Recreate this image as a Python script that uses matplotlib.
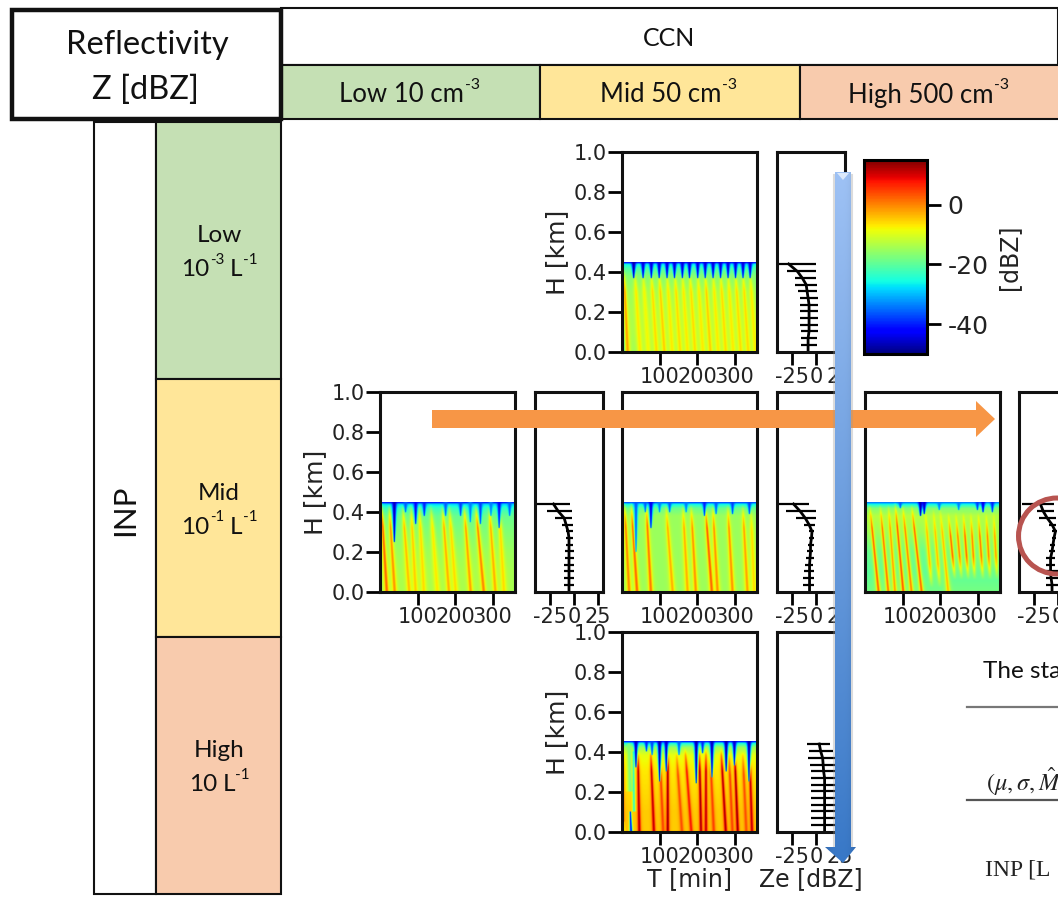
import numpy as np
import matplotlib
matplotlib.use('Agg')
import matplotlib.pyplot as plt
from matplotlib.cm import ScalarMappable
from matplotlib.colors import Normalize
from matplotlib.patches import Rectangle, Ellipse, Polygon

W, H = 1058, 898
plt.rcParams['axes.unicode_minus'] = False

# table text
CCN_LABELS = ['Low 10 cm', 'Mid 50 cm', 'High 500 cm']
INP_LABELS = [('Low', '10', '-3', 'L', '-1'), ('Mid', '10', '-1', 'L', '-1'), ('High', '10', '', 'L', '-1')]
CLASS_COLORS = ['#C5E0B4', '#FFE699', '#F8CBAD']

# height of the bars in the Ze profiles [km]
PROF_H = [0.44, 0.403, 0.37, 0.337, 0.303, 0.27, 0.237, 0.203, 0.17, 0.137, 0.103, 0.07, 0.037]

TOP_ZE = [-28, -19, -14, -10, -9, -8, -7, -7, -7, -7, -7, -8, -8]
TOP_LO = [-38, -30, -21, -21, -18, -16, -16, -16, -16, -16, -15, -15, -15]
TOP_HI = [0, 0, 0, 1, 1, 2, 2, 2, 2, 2, 2, 1, 1]

LEFT_ZE = [-21, -16, -10, -8, -6, -5, -5, -5, -5, -5, -5, -5, -5]
LEFT_LO = [-39, -28, -19, -12, -8, -8, -8, -9, -9, -10, -10, -10, -10]
LEFT_HI = [-4, -2, -2, -1, -1, -1, -1, 0, 0, 0, 0, 0, 0]

MID_ZE = [-23, -16, -11, -7, -4, -4.5, -5.5, -5.5, -6, -6.5, -6.5, -6.5, -6.5]
MID_LO = [-38.5, -31, -20, -12.5, -7, -7, -8, -9, -10, -11, -12.5, -13, -13]
MID_HI = [-7, 0, 0, -1, -1.5, -1.5, -2, -3, -2, -3, -1.5, -1.5, -1.5]

RIGHT_ZE = [-18, -15, -11, -6, -2.5, -4, -5, -6, -7.5, -7.5, -7.5, -7, -6]
RIGHT_LO = [-37, -21, -19, -9, -6, -6, -8, -9, -12, -12, -12, -12, -12]
RIGHT_HI = [-4, -4, -2, -2, -1, -2, -2.5, -3, -3, -3, 0, 0, 0]

BOTTOM_ZE = [3.5, 5, 7, 7.5, 8, 9, 9, 9, 9, 9, 9, 9, 9]
BOTTOM_LO = [-9, -7, -8, -6, -5, -5, -5, -5, -5, -5, -5, -5, -5]
BOTTOM_HI = [15, 18, 22, 25, 26, 26, 26, 26, 26, 26, 26, 26, 26]

# background reflectivity against height, read from the gaps between the streaks
BASE_H = [0.0, 0.1, 0.2, 0.3, 0.38, 0.42, 0.44, 0.45]
TOP_BASE = [-15, -14, -14, -15, -17, -21, -26, -43]
LEFT_BASE = [-14, -14, -15, -17, -19, -23, -28, -42]
MID_BASE = [-15, -15, -15, -15, -15, -19, -26, -38]
RIGHT_BASE = [-18, -20, -19, -15, -13, -17, -26, -35]
BOTTOM_BASE = [-5, -5, -6, -7, -9, -15, -25, -42]

# streaks: time at top [min], time at bottom [min], height of start, height of end, dBZ
TOP_STREAKS = [
    (0, 1, 0.45, 0.0, -46), (4, 15, 0.42, 0.0, -2), (33, 48, 0.42, 0.0, -7), (55, 70, 0.42, 0.0, -8),
    (77, 92, 0.42, 0.0, -6), (98, 113, 0.42, 0.0, -5), (119, 134, 0.42, 0.0, -7), (140, 155, 0.42, 0.0, -6),
    (160, 175, 0.42, 0.0, -7), (180, 195, 0.42, 0.0, -6), (201, 216, 0.42, 0.0, -7), (221, 236, 0.42, 0.0, -5),
    (242, 257, 0.42, 0.0, -7), (262, 277, 0.42, 0.0, -6), (282, 297, 0.42, 0.0, -7), (302, 317, 0.42, 0.0, -6),
    (322, 337, 0.42, 0.0, -6), (341, 356, 0.42, 0.0, -7),
]
TOP_CUSPS = [
    (31, 0.37, -48), (56, 0.37, -45), (78, 0.37, -45), (99, 0.37, -45), (120, 0.37, -45), (140, 0.37, -45),
    (161, 0.37, -45), (180, 0.37, -45), (202, 0.37, -45), (222, 0.37, -45), (243, 0.37, -45), (263, 0.37, -45),
    (283, 0.37, -45), (303, 0.37, -45), (323, 0.37, -45), (342, 0.37, -45),
]

LEFT_STREAKS = [
    (3, 18, 0.45, 0.0, 2), (24, 39, 0.44, 0.0, -1), (60, 78, 0.44, 0.0, -4), (82, 95, 0.44, 0.0, -5),
    (104, 117, 0.44, 0.0, -6), (135, 153, 0.44, 0.0, -7), (166, 184, 0.44, 0.0, -3), (184, 202, 0.44, 0.0, -6),
    (224, 242, 0.44, 0.0, -2), (255, 277, 0.44, 0.0, 0), (291, 308, 0.44, 0.0, -3), (317, 331, 0.44, 0.0, -6),
]
LEFT_CUSPS = [
    (38, 0.25, -47), (68, 0.40, -36), (95, 0.34, -42), (118, 0.38, -40), (175, 0.38, -36), (215, 0.38, -38),
    (241, 0.35, -34), (268, 0.34, -38), (296, 0.38, -34), (318, 0.32, -42), (346, 0.38, -36),
]

MID_STREAKS = [
    (6, 19, 0.45, 0.0, 0), (24, 40, 0.45, 0.0, 2), (64, 77, 0.45, 0.0, 1), (117, 135, 0.44, 0.0, -3),
    (162, 175, 0.44, 0.0, -3), (184, 197, 0.44, 0.0, -1), (222, 240, 0.44, 0.0, 3), (242, 255, 0.44, 0.0, -1),
    (282, 295, 0.44, 0.0, -1), (322, 335, 0.44, 0.0, -2), (344, 353, 0.42, 0.0, -6),
]
MID_CUSPS = [
    (37, 0.20, -36), (62, 0.40, -36), (77, 0.32, -44), (100, 0.40, -34), (127, 0.40, -36), (171, 0.40, -34),
    (220, 0.38, -40), (251, 0.39, -36), (295, 0.39, -38), (340, 0.39, -38),
]

RIGHT_STREAKS = [
    (12, 36, 0.44, 0.0, 2), (40, 62, 0.44, 0.0, 1), (62, 80, 0.44, 0.0, -2), (80, 102, 0.45, 0.0, 3),
    (100, 124, 0.44, 0.0, 0), (124, 151, 0.44, 0.0, 2), (160, 178, 0.42, 0.02, -4), (182, 200, 0.42, 0.02, -4),
    (200, 222, 0.42, 0.0, -4), (222, 240, 0.40, 0.06, 2), (242, 258, 0.40, 0.06, 0), (262, 276, 0.40, 0.06, 2),
    (282, 293, 0.40, 0.06, 0), (302, 315, 0.40, 0.06, 1), (323, 334, 0.40, 0.06, 0), (343, 353, 0.40, 0.06, -2),
]
RIGHT_CUSPS = [
    (94, 0.42, -36), (148, 0.38, -48), (158, 0.39, -46), (198, 0.41, -34), (250, 0.41, -34),
    (300, 0.41, -38), (315, 0.40, -44), (340, 0.40, -40),
]

BOTTOM_STREAKS = [
    (100, 110, 0.40, 0.0, 5), (145, 160, 0.40, 0.0, 4), (235, 245, 0.40, 0.0, 5), (285, 295, 0.40, 0.0, 5),
    (322, 332, 0.40, 0.0, 4), (18, 22, 0.44, 0.20, -17), (30, 32, 0.40, 0.10, -24), (22, 24, 0.10, 0.0, -44),
    (4, 4, 0.05, 0.0, -30), (0, 1, 0.45, 0.0, 12), (42, 46, 0.42, 0.0, 13), (76, 85, 0.42, 0.0, 12),
    (122, 122, 0.44, 0.0, 14), (168, 185, 0.42, 0.0, 8), (206, 211, 0.42, 0.0, 14), (224, 224, 0.42, 0.0, 12),
    (264, 277, 0.42, 0.0, 13), (300, 309, 0.42, 0.0, 14), (340, 347, 0.42, 0.0, 12),
]
BOTTOM_CUSPS = [
    (37, 0.32, -47), (100, 0.25, -48), (118, 0.30, -46), (198, 0.24, -48), (240, 0.27, -47), (278, 0.30, -48),
    (300, 0.33, -46), (339, 0.25, -48), (215, 0.39, -40), (152, 0.38, -36), (65, 0.40, -40), (80, 0.38, -38),
]

# colourbar
CBAR_TICKS = [0, -20, -40]
ZMIN, ZMAX = -50, 15


def px_axes(x0, y0, x1, y1, **kw):
    return fig.add_axes([x0 / W, 1 - y1 / H, (x1 - x0) / W, (y1 - y0) / H], **kw)


def make_field(base, streaks, cusps, width, halo_z):
    t = np.linspace(0, 360, 540)
    h = np.linspace(0, 0.45, 200)
    tt, hh = np.meshgrid(t, h)
    field = np.interp(hh, BASE_H, base)
    for t_top, t_bot, h_top, h_bot, z in streaks:
        frac = np.clip((h_top - hh) / (h_top - h_bot), 0, 1)
        env = np.clip((h_top - hh) / 0.12, 0, 1) * np.clip((hh - h_bot) / 0.12 + (h_bot == 0), 0, 1)
        if z < -20 or h_top - h_bot < 0.3:
            env = ((hh < h_top) & (hh > h_bot)) * 1.0
        centre = t_top + (t_bot - t_top) * frac
        w = width * (0.6 + 0.4 * frac)
        # yellow halo first, then the core of the streak
        if z > -20:
            halo = 0.8 * env * np.exp(-((tt - centre) / (2.2 * w)) ** 2)
            field = field * (1 - halo) + min(z, halo_z) * halo
        wgt = env * np.exp(-((tt - centre) / w) ** 2)
        field = field * (1 - wgt) + z * wgt
    for tc, h_end, z in cusps:
        frac = np.clip((hh - h_end) / (0.45 - h_end), 0, 1)
        wgt = (frac > 0) * np.exp(-((tt - tc) / (1.5 + 4.5 * frac ** 0.8)) ** 2)
        field = field * (1 - wgt) + z * wgt
    return field


def heat_panel(x0, y0, base, streaks, cusps, width, halo_z=-8, ylab=False, xlab=False):
    ax = px_axes(x0, y0, x0 + 135, y0 + 200)
    ax.imshow(make_field(base, streaks, cusps, width, halo_z), extent=[0, 360, 0, 0.45], origin='lower',
              cmap='jet', vmin=ZMIN, vmax=ZMAX, aspect='auto', interpolation='bilinear')
    ax.set_xlim(0, 360)
    ax.set_ylim(0, 1)
    ax.set_xticks([100, 200, 300])
    if ylab:
        ax.set_yticks([0, 0.2, 0.4, 0.6, 0.8, 1.0])
        ax.set_ylabel('H [km]', fontsize=18, labelpad=3, color='#222222')
    else:
        ax.set_yticks([])
    if xlab:
        ax.set_xlabel('T [min]', fontsize=17, labelpad=0, color='#222222')
    style_axes(ax)


def profile_panel(x0, y0, ze, lo, hi, xlab=False):
    ax = px_axes(x0, y0, x0 + 68, y0 + 200)
    ax.plot(ze + [ze[-1]], PROF_H + [0.0], color='black', lw=2)
    ax.hlines(PROF_H, lo, hi, color='black', lw=1.6)
    ax.set_xlim(-40, 30)
    ax.set_ylim(0, 1)
    ax.set_xticks([-25, 0, 25])
    ax.set_yticks([])
    if xlab:
        ax.set_xlabel('Ze [dBZ]', fontsize=17, labelpad=0, color='#222222')
    style_axes(ax)


def style_axes(ax):
    for sp in ax.spines.values():
        sp.set_linewidth(2.2)
        sp.set_color('#111111')
    ax.tick_params(axis='x', length=9, width=2, pad=2, labelsize=15, labelcolor='#222222')
    ax.tick_params(axis='y', length=10, width=2, pad=1, labelsize=15, labelcolor='#222222')


def box(x0, y0, x1, y1, fc='white', lw=1.5, z=1):
    bg.add_patch(Rectangle((x0, y0), x1 - x0, y1 - y0, fc=fc, ec='#111111', lw=lw, zorder=z))


def sup_text(x, y, main, sup, size=18.5):
    # main text with a small raised part behind it
    t = bg.text(x, y, main, ha='left', va='center', fontsize=size, family='Lato', color='#111111', zorder=5)
    bg.annotate(sup, xy=(1, 0.5), xycoords=t, xytext=(0.5, 2), textcoords='offset points',
                va='bottom', ha='left', fontsize=size * 0.62, family='Lato', color='#111111', zorder=5)
    return t


fig = plt.figure(figsize=(W / 100, H / 100), dpi=100, facecolor='white')

# table behind the panels
bg = fig.add_axes([0, 0, 1, 1], zorder=0)
bg.set_xlim(0, W)
bg.set_ylim(H, 0)
bg.axis('off')

box(281, 8, 1058, 65)
bg.text(669, 39, 'CCN', ha='center', va='center', fontsize=18, family='Lato', color='#111111')
for (x0, x1), lab, col, tx in zip([(281, 540), (540, 800), (800, 1060)], CCN_LABELS, CLASS_COLORS, [339, 600, 848]):
    box(x0, 65, x1, 119, fc=col)
    sup_text(tx, 95, lab, '-3')
box(12, 10, 281, 119, lw=3.2, z=3)
bg.text(147, 45, 'Reflectivity', ha='center', va='center', fontsize=23.5, family='Lato', color='#111111', zorder=5)
bg.text(145, 90, 'Z [dBZ]', ha='center', va='center', fontsize=23.5, family='Lato', color='#111111', zorder=5)

box(94, 122, 156, 894)
bg.text(125, 510, 'INP', ha='center', va='center', rotation=90, fontsize=22.5, family='Lato', color='#111111')
for (y0, y1), (name, num, sup, unit, usup), col in zip([(122, 379), (379, 637), (637, 894)], INP_LABELS, CLASS_COLORS):
    box(156, y0, 281, y1, fc=col)
    yc = (y0 + y1) / 2
    bg.text(219, yc - 15, name, ha='center', va='center', fontsize=17.5, family='Lato', color='#111111')
    t = sup_text(181 if sup else 189, yc + 19, num, sup, size=17.5)
    bg.annotate(unit, xy=(1, 0.5), xycoords=t, xytext=(15 if sup else 4, 0), textcoords='offset points',
                va='center', ha='left', fontsize=17.5, family='Lato', color='#111111')
    bg.annotate(usup, xy=(1, 0.5), xycoords=t, xytext=(24 if sup else 13, 2), textcoords='offset points',
                va='bottom', ha='left', fontsize=11, family='Lato', color='#111111')

# text of the table that is cut off by the slide edge
bg.text(983, 671, 'The sta', ha='left', va='center', fontsize=17.5, family='Lato', color='#111111')
bg.plot([967, 1058], [707, 707], color='#777777', lw=1.6)
bg.plot([967, 1058], [800, 800], color='#555555', lw=1.6)
bg.text(986, 782, r'$(\mu,\sigma,\hat{M}$', ha='left', va='center', fontsize=17.5, math_fontfamily='stix', color='#222222')
bg.text(985, 870, 'INP [L', ha='left', va='center', fontsize=17, family='Liberation Serif', color='#222222')

# panels
heat_panel(622, 152, TOP_BASE, TOP_STREAKS, TOP_CUSPS, 4.5, ylab=True)
profile_panel(777, 152, TOP_ZE, TOP_LO, TOP_HI)
heat_panel(380, 392, LEFT_BASE, LEFT_STREAKS, LEFT_CUSPS, 4.5, ylab=True)
profile_panel(535, 392, LEFT_ZE, LEFT_LO, LEFT_HI)
heat_panel(622, 392, MID_BASE, MID_STREAKS, MID_CUSPS, 4.5)
profile_panel(777, 392, MID_ZE, MID_LO, MID_HI)
heat_panel(865, 392, RIGHT_BASE, RIGHT_STREAKS, RIGHT_CUSPS, 4, halo_z=-10)
profile_panel(1019, 392, RIGHT_ZE, RIGHT_LO, RIGHT_HI)
heat_panel(622, 632, BOTTOM_BASE, BOTTOM_STREAKS, BOTTOM_CUSPS, 3.8, halo_z=-1, ylab=True, xlab=True)
profile_panel(777, 632, BOTTOM_ZE, BOTTOM_LO, BOTTOM_HI, xlab=True)

# colourbar
cax = px_axes(864, 160, 927, 354)
cb = fig.colorbar(ScalarMappable(Normalize(ZMIN, ZMAX), 'jet'), cax=cax)
cb.set_ticks(CBAR_TICKS)
cb.ax.tick_params(length=10, width=2, pad=5, labelsize=18, labelcolor='#222222')
cb.outline.set_linewidth(2.2)
cb.set_label('[dBZ]', fontsize=17, labelpad=6, color='#222222')

# arrows and circle on top of everything
top = fig.add_axes([0, 0, 1, 1], zorder=10)
top.patch.set_alpha(0)
top.axis('off')
top.add_patch(Polygon([(432, 410), (976, 410), (976, 401), (995, 419), (976, 437), (976, 428), (432, 428)],
                      fc='#F79646', ec='none', zorder=1))
top.add_patch(Ellipse((1057, 536), 77, 76, fc='none', ec='#B85450', lw=3.6, zorder=2))

# blue arrow with gradient
ys = np.linspace(0, 1, 256)[:, None]
xs = np.linspace(-1, 1, 32)[None, :]
c_top, c_bot = np.array([0.62, 0.76, 0.96]), np.array([0.22, 0.47, 0.78])
grad = (c_top[None, None, :] * (1 - ys[..., None]) + c_bot[None, None, :] * ys[..., None])
grad = grad * (1 - 0.13 * (np.abs(xs) ** 3)[..., None])
img = top.imshow(grad, extent=[825, 856, 863, 172], aspect='auto', zorder=3)
img.set_clip_path(Polygon([(835, 172), (851, 172), (851, 847), (856, 847), (843, 863), (825, 847), (835, 847)],
                          transform=top.transData))
top.add_patch(Polygon([(837, 173), (849, 173), (843, 180)], fc='#DCE9FB', ec='none', zorder=4))
top.plot([852, 852], [175, 847], color='#999999', alpha=0.35, lw=1.5, zorder=2)
top.plot([834, 834], [175, 847], color='#999999', alpha=0.35, lw=1.5, zorder=2)
top.set_xlim(0, W)
top.set_ylim(H, 0)

fig.savefig('out.png', dpi=100)
